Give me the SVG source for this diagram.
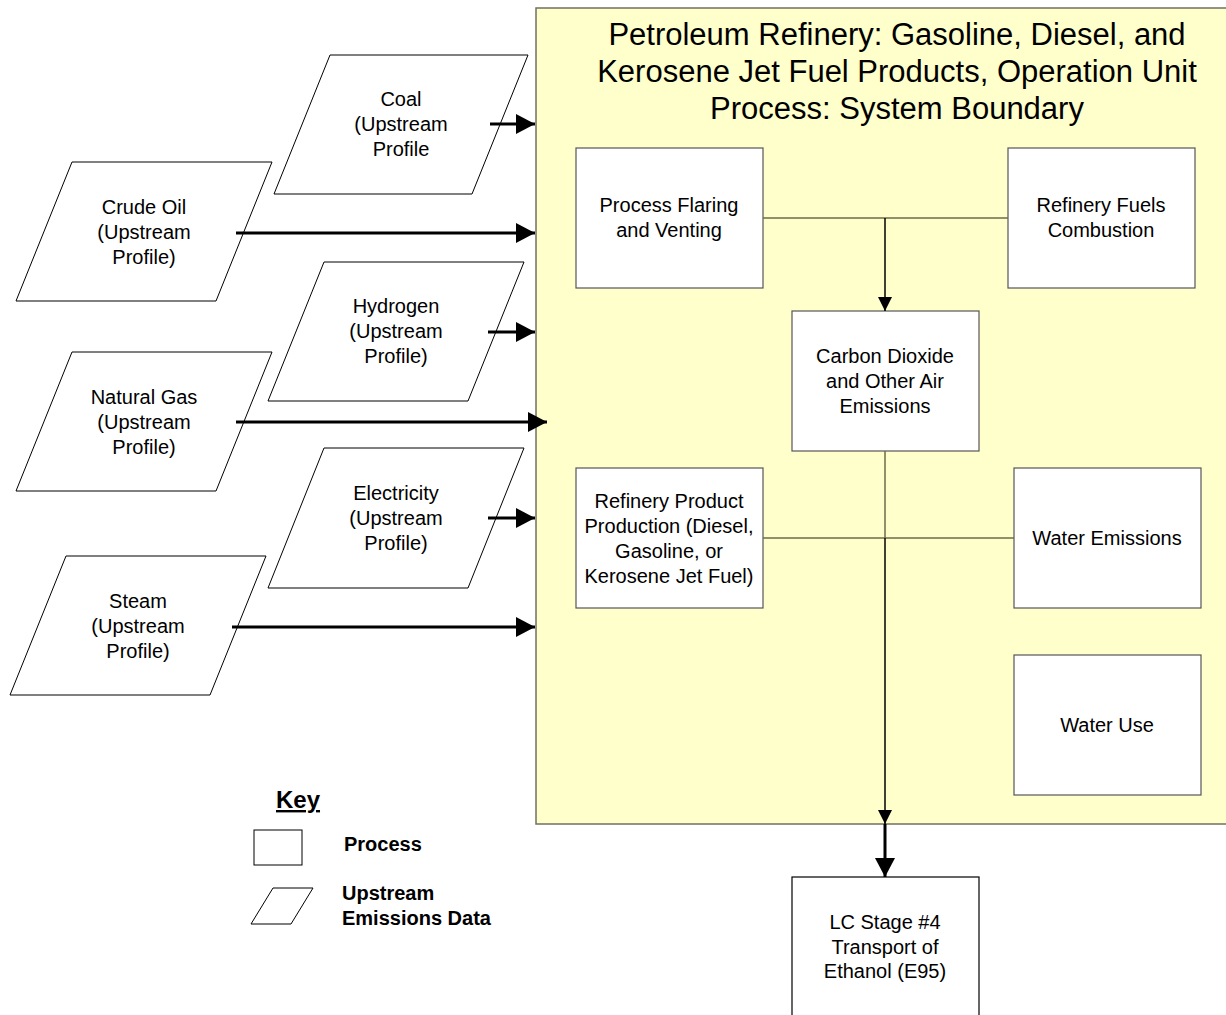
<svg xmlns="http://www.w3.org/2000/svg" width="1226" height="1015" viewBox="0 0 1226 1015">
<style>
.t{font-family:"Liberation Sans",Arial,sans-serif;font-size:20px;fill:#000;text-anchor:middle}
.title{font-family:"Liberation Sans",Arial,sans-serif;font-size:31px;fill:#000;text-anchor:middle}
.kb{font-family:"Liberation Sans",Arial,sans-serif;font-size:20px;font-weight:bold;fill:#000}
.box{fill:#fff;stroke:#555;stroke-width:1.2}
.para{fill:#fff;stroke:#000;stroke-width:1}
.thick{stroke:#000;stroke-width:3;fill:none}
.thin{stroke:#6b6b48;stroke-width:1.5;fill:none}
.thinb{stroke:#000;stroke-width:1.5;fill:none}
</style>
<defs>
<marker id="ah" markerUnits="userSpaceOnUse" markerWidth="20" markerHeight="20" refX="19" refY="10" orient="auto"><path d="M0,0 L19,10 L0,20 Z" fill="#000"/></marker>
<marker id="ahs" markerUnits="userSpaceOnUse" markerWidth="14" markerHeight="14" refX="14" refY="7" orient="auto"><path d="M0,0 L14,7 L0,14 Z" fill="#000"/></marker>
<marker id="ahl" markerUnits="userSpaceOnUse" markerWidth="20" markerHeight="20" refX="19" refY="10" orient="auto"><path d="M0,0 L19,10 L0,20 Z" fill="#000"/></marker>
</defs>
<rect width="1226" height="1015" fill="#fff"/>
<g id="boundary">
<rect x="536" y="8" width="700" height="816" fill="#ffffcc" stroke="#707060" stroke-width="1.5"/>
<text class="title" x="897" y="45">Petroleum Refinery: Gasoline, Diesel, and</text>
<text class="title" x="897" y="82">Kerosene Jet Fuel Products, Operation Unit</text>
<text class="title" x="897" y="119">Process: System Boundary</text>
</g>
<g id="coal"><polygon class="para" points="330,55 528,55 472,194 274,194"/>
<text class="t" x="401" y="106">Coal</text><text class="t" x="401" y="131">(Upstream</text><text class="t" x="401" y="156">Profile</text></g>
<g id="crude"><polygon class="para" points="72,162 272,162 216,301 16,301"/>
<text class="t" x="144" y="214">Crude Oil</text><text class="t" x="144" y="239">(Upstream</text><text class="t" x="144" y="264">Profile)</text></g>
<g id="hydrogen"><polygon class="para" points="324,262 524,262 468,401 268,401"/>
<text class="t" x="396" y="313">Hydrogen</text><text class="t" x="396" y="338">(Upstream</text><text class="t" x="396" y="363">Profile)</text></g>
<g id="natgas"><polygon class="para" points="72,352 272,352 216,491 16,491"/>
<text class="t" x="144" y="404">Natural Gas</text><text class="t" x="144" y="429">(Upstream</text><text class="t" x="144" y="454">Profile)</text></g>
<g id="electricity"><polygon class="para" points="324,448 524,448 468,588 268,588"/>
<text class="t" x="396" y="500">Electricity</text><text class="t" x="396" y="525">(Upstream</text><text class="t" x="396" y="550">Profile)</text></g>
<g id="steam"><polygon class="para" points="66,556 266,556 210,695 10,695"/>
<text class="t" x="138" y="608">Steam</text><text class="t" x="138" y="633">(Upstream</text><text class="t" x="138" y="658">Profile)</text></g>
<g id="flaring"><rect class="box" x="576" y="148" width="187" height="140"/>
<text class="t" x="669" y="212">Process Flaring</text><text class="t" x="669" y="237">and Venting</text></g>
<g id="fuels"><rect class="box" x="1008" y="148" width="187" height="140"/>
<text class="t" x="1101" y="212">Refinery Fuels</text><text class="t" x="1101" y="237">Combustion</text></g>
<g id="co2"><rect class="box" x="792" y="311" width="187" height="140"/>
<text class="t" x="885" y="363">Carbon Dioxide</text><text class="t" x="885" y="388">and Other Air</text><text class="t" x="885" y="413">Emissions</text></g>
<g id="product"><rect class="box" x="576" y="468" width="187" height="140"/>
<text class="t" x="669" y="508">Refinery Product</text><text class="t" x="669" y="533">Production (Diesel,</text><text class="t" x="669" y="558">Gasoline, or</text><text class="t" x="669" y="583">Kerosene Jet Fuel)</text></g>
<g id="wateremis"><rect class="box" x="1014" y="468" width="187" height="140"/>
<text class="t" x="1107" y="545">Water Emissions</text></g>
<g id="wateruse"><rect class="box" x="1014" y="655" width="187" height="140"/>
<text class="t" x="1107" y="732">Water Use</text></g>
<g id="lcstage"><rect x="792" y="877" width="187" height="150" fill="#fff" stroke="#000" stroke-width="1.2"/>
<text class="t" x="885" y="929">LC Stage #4</text><text class="t" x="885" y="954">Transport of</text><text class="t" x="885" y="978">Ethanol (E95)</text></g>
<g id="connectors">
<line class="thick" x1="490" y1="124" x2="535" y2="124" marker-end="url(#ah)"/>
<line class="thick" x1="236" y1="233" x2="535" y2="233" marker-end="url(#ah)"/>
<line class="thick" x1="488" y1="332" x2="535" y2="332" marker-end="url(#ah)"/>
<line class="thick" x1="236" y1="422" x2="547" y2="422" marker-end="url(#ah)"/>
<line class="thick" x1="488" y1="518" x2="535" y2="518" marker-end="url(#ah)"/>
<line class="thick" x1="232" y1="627" x2="535" y2="627" marker-end="url(#ah)"/>
<line class="thin" x1="763" y1="218" x2="1008" y2="218"/>
<line class="thinb" x1="885" y1="218" x2="885" y2="311" marker-end="url(#ahs)"/>
<line class="thin" x1="763" y1="538" x2="1014" y2="538"/>
<line class="thin" x1="885" y1="451" x2="885" y2="538"/>
<line class="thinb" x1="885" y1="538" x2="885" y2="824" marker-end="url(#ahs)"/>
<line class="thick" x1="885" y1="824" x2="885" y2="877" marker-end="url(#ahl)"/>
</g>
<g id="key">
<text x="298" y="808" font-family="Liberation Sans, Arial, sans-serif" font-size="24" font-weight="bold" text-anchor="middle" text-decoration="underline">Key</text>
<rect x="254" y="830" width="48" height="35" fill="#fff" stroke="#000" stroke-width="1"/>
<text class="kb" x="344" y="851">Process</text>
<polygon points="273,888 313,888 291,924 251,924" fill="#fff" stroke="#000" stroke-width="1"/>
<text class="kb" x="342" y="900">Upstream</text>
<text class="kb" x="342" y="925">Emissions Data</text>
</g>
</svg>
